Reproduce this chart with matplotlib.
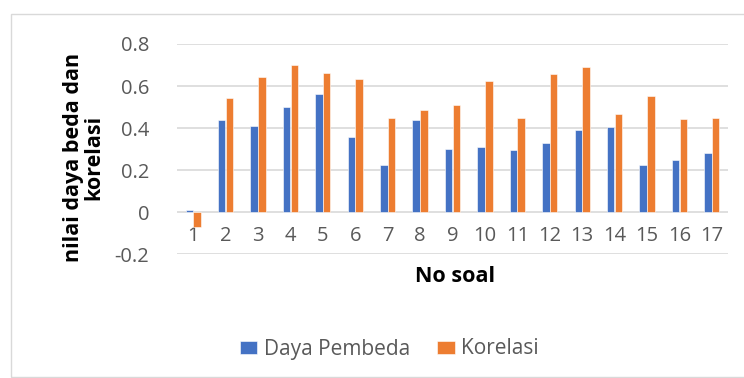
import numpy as np
import matplotlib.pyplot as plt
from matplotlib.patches import Rectangle

soal = [str(i) for i in range(1, 18)]
daya_pembeda = [0.01, 0.437, 0.41, 0.5, 0.563, 0.357, 0.227, 0.437, 0.303,
                0.312, 0.298, 0.331, 0.39, 0.407, 0.227, 0.249, 0.281]
korelasi = [-0.068, 0.542, 0.645, 0.702, 0.661, 0.634, 0.447, 0.487, 0.51,
            0.623, 0.45, 0.659, 0.689, 0.469, 0.553, 0.444, 0.45]

plt.rcParams['font.family'] = ['Open Sans', 'DejaVu Sans']
grey = "#595959"

fig = plt.figure(figsize=(7.44, 3.78), dpi=100)
ax = fig.add_axes([177/744, 1 - 254.4/378, (728 - 177)/744, (254.4 - 44)/378])

x = np.arange(len(soal))
w = 0.23
ax.bar(x - 0.12, daya_pembeda, w, color="#4472C4", edgecolor="white", linewidth=0.4,
       label="Daya Pembeda", zorder=3)
ax.bar(x + 0.12, korelasi, w, color="#ED7D31", edgecolor="white", linewidth=0.4,
       label="Korelasi", zorder=3)

ax.set_xlim(-0.5, len(soal) - 0.5)
ax.set_ylim(-0.2, 0.8)
ax.set_yticks([-0.2, 0, 0.2, 0.4, 0.6, 0.8])
ax.set_yticklabels(["-0.2", "0", "0.2", "0.4", "0.6", "0.8"])
ax.set_xticks(x)
ax.set_xticklabels(soal)
ax.grid(axis="y", color="#D9D9D9", linewidth=1.2, zorder=0)
for s in ax.spines.values():
    s.set_visible(False)
ax.spines['bottom'].set_position(('data', 0))
ax.tick_params(axis="both", length=0, labelsize=14.5, labelcolor=grey)
ax.tick_params(axis="x", pad=10)
ax.tick_params(axis="y", pad=20)

fig.text(455/744, 1 - 276/378, "No soal", ha="center", va="center",
         fontsize=15.5, fontweight="bold", color="black")
fig.text(84/744, 1 - 157/378, "nilai daya beda dan\nkorelasi", ha="center", va="center",
         rotation=90, fontsize=15.5, fontweight="bold", color="black", linespacing=0.95)

fig.legend(loc="center", bbox_to_anchor=(389/744, 1 - 349/378), ncol=2, frameon=False,
           fontsize=15, labelcolor=grey, handlelength=0.85, handleheight=0.6,
           columnspacing=1.3, handletextpad=0.3)

fig.patches.append(Rectangle((11/744, 0.002), 740/744, 1 - 14/378 - 0.002,
                             transform=fig.transFigure, fill=False,
                             edgecolor="#D9D9D9", linewidth=1))

fig.savefig("out.png", dpi=100)
